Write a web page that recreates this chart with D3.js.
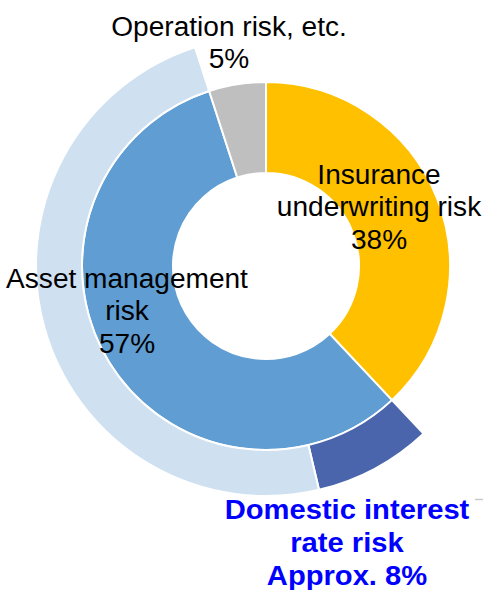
<!DOCTYPE html>
<html>
<head>
<meta charset="utf-8">
<script src="https://cdn.jsdelivr.net/npm/d3@7"></script>
<style>
  html, body { margin: 0; padding: 0; background: #ffffff; }
  svg { display: block; }
  text { font-family: "Liberation Sans", Arial, sans-serif; }
</style>
</head>
<body>
<svg id="chart" width="483" height="590"></svg>
<script>
// ---- data ----
const categories = ["Insurance underwriting risk", "Asset management risk", "Operation risk, etc."];
const values = [38, 57, 5];
const innerLabels = [["Insurance", "underwriting risk", "38%"], ["Asset management", "risk", "57%"], ["Operation risk, etc.", "5%"]];

const ringCategories = ["Domestic interest rate risk", "Other asset management risk"];
const ringValues = [8.3, 48.7];
const ringLabel = ["Domestic interest", "rate risk", "Approx. 8%"];

// ---- layout ----
const W = 483, H = 590;
const cx = 266, cy = 266;
const rHole = 93, rDonut = 184, rRing = 230;
const colors = { "Insurance underwriting risk": "#FFC000", "Asset management risk": "#5F9DD3", "Operation risk, etc.": "#BFBFBF" };
const ringColors = { "Domestic interest rate risk": "#4A65AC", "Other asset management risk": "#CFE0F0" };

const svg = d3.select("#chart");
const g = svg.append("g").attr("transform", `translate(${cx},${cy})`);

const data = categories.map((c, i) => ({ c, v: values[i] }));
const pie = d3.pie().sort(null).value(d => d.v);
const arcs = pie(data);
const arc = d3.arc().innerRadius(rHole).outerRadius(rDonut);

g.selectAll("path.main").data(arcs).join("path")
  .attr("class", "main")
  .attr("d", arc)
  .attr("fill", d => colors[d.data.c])
  .attr("stroke", "#ffffff")
  .attr("stroke-width", 2);

// outer ring covering the asset management slice
const am = arcs[1];
const ringData = ringCategories.map((c, i) => ({ c, v: ringValues[i] }));
const ringPie = d3.pie().sort(null).value(d => d.v).startAngle(am.startAngle).endAngle(am.endAngle);
const ringArc = d3.arc().innerRadius(rDonut).outerRadius(rRing);
g.selectAll("path.ring").data(ringPie(ringData)).join("path")
  .attr("class", "ring")
  .attr("d", ringArc)
  .attr("fill", d => ringColors[d.data.c])
  .attr("stroke", "#ffffff")
  .attr("stroke-width", 2);

// ---- labels ----
const labelPos = [
  { x: 379, y: 184 },
  { x: 127, y: 288 },
  { x: 229, y: 36 }
];
const lineH = 32.5;
const sx = 1.04;
innerLabels.forEach((lines, i) => {
  const p = labelPos[i];
  const t = svg.append("text")
    .attr("transform", `translate(${p.x},${p.y}) scale(${sx},1)`)
    .attr("text-anchor", "middle")
    .attr("font-size", 27)
    .attr("fill", "#000000");
  lines.forEach((s, j) => {
    t.append("tspan").attr("x", 0).attr("y", j * lineH).text(s);
  });
});

const rt = svg.append("text")
  .attr("transform", `translate(347,519) scale(1.08,1)`)
  .attr("text-anchor", "middle")
  .attr("font-size", 27)
  .attr("font-weight", "bold")
  .attr("fill", "#0000FF");
ringLabel.forEach((s, j) => {
  rt.append("tspan").attr("x", 0).attr("y", j * 33).text(s);
});

// small grey rule at right edge
svg.append("line").attr("x1", 475).attr("x2", 483).attr("y1", 499.5).attr("y2", 499.5)
  .attr("stroke", "#C8C8C8").attr("stroke-width", 1.5);
</script>
</body>
</html>
